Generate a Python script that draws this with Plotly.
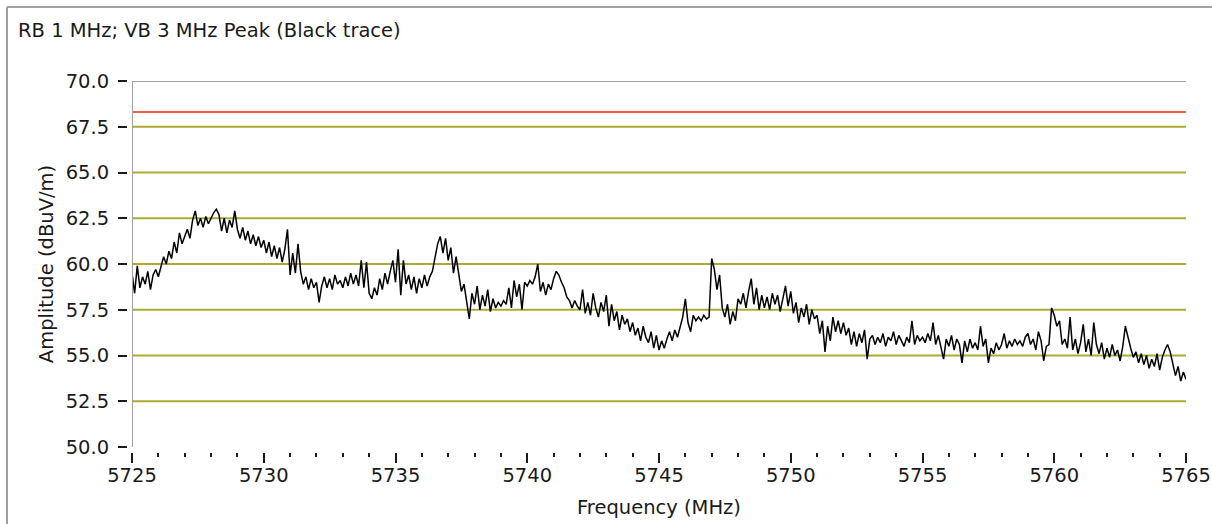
import numpy as np
import plotly.graph_objects as go

# ---------------- data ----------------
F_START = 5725.0
F_STEP = 0.1

amp_rows = [
    [59.5, 58.4, 59.9, 58.7, 59.3, 58.9, 59.6, 58.6, 59.4, 59.7],  # 5725
    [59.3, 59.8, 60.4, 60.0, 60.7, 60.3, 61.2, 60.6, 61.7, 61.1],  # 5726
    [61.5, 61.9, 61.4, 62.4, 62.9, 62.1, 62.5, 62.0, 62.6, 62.2],  # 5727
    [62.5, 62.8, 63.0, 62.7, 61.8, 62.5, 61.7, 62.4, 62.0, 62.9],  # 5728
    [61.9, 61.4, 62.0, 61.3, 61.8, 61.1, 61.6, 61.0, 61.5, 60.9],  # 5729
    [61.3, 60.6, 61.2, 60.4, 61.0, 60.3, 60.9, 60.1, 60.8, 61.9],  # 5730
    [59.4, 60.6, 59.5, 61.1, 59.6, 58.9, 59.3, 58.6, 59.2, 58.7],  # 5731
    [59.0, 57.9, 58.8, 59.3, 58.7, 59.2, 58.6, 59.4, 58.9, 59.1],  # 5732
    [58.7, 59.3, 58.8, 59.5, 58.9, 59.4, 58.8, 60.2, 58.7, 60.1],  # 5733
    [58.4, 58.1, 58.7, 58.3, 59.2, 58.6, 59.5, 58.9, 59.6, 60.2],  # 5734
    [59.0, 60.8, 58.3, 60.2, 58.9, 59.4, 58.6, 59.3, 58.4, 59.2],  # 5735
    [58.7, 59.4, 58.8, 59.3, 59.6, 60.4, 61.1, 61.5, 60.6, 61.4],  # 5736
    [60.2, 60.9, 59.5, 60.4, 59.3, 58.5, 58.9, 57.9, 57.0, 58.4],  # 5737
    [57.8, 58.8, 57.5, 58.3, 57.7, 58.6, 57.4, 58.1, 57.6, 57.9],  # 5738
    [57.7, 58.0, 57.8, 58.7, 57.6, 59.1, 58.2, 58.9, 57.5, 59.0],  # 5739
    [58.8, 59.1, 58.9, 59.3, 60.0, 58.5, 59.0, 58.3, 58.9, 58.6],  # 5740
    [59.2, 59.6, 59.4, 59.0, 58.7, 58.2, 58.0, 57.6, 58.0, 57.7],  # 5741
    [57.5, 58.6, 57.3, 57.9, 57.2, 58.4, 57.6, 57.1, 57.9, 57.4],  # 5742
    [58.3, 56.6, 57.8, 56.9, 57.4, 56.4, 57.2, 56.7, 57.0, 56.3],  # 5743
    [56.8, 56.1, 56.5, 55.8, 56.6, 56.0, 55.7, 56.3, 55.4, 56.1],  # 5744
    [55.3, 55.8, 55.4, 55.9, 56.3, 55.8, 56.4, 56.0, 56.6, 57.1],  # 5745
    [58.1, 56.8, 56.3, 57.2, 56.9, 57.1, 56.9, 57.2, 57.0, 57.1],  # 5746
    [60.3, 59.7, 58.6, 59.4, 57.6, 57.1, 57.8, 56.7, 57.4, 56.9],  # 5747
    [58.1, 57.8, 58.4, 57.6, 58.5, 59.2, 57.8, 58.7, 57.5, 58.3],  # 5748
    [57.6, 58.2, 57.5, 58.4, 57.8, 58.3, 57.4, 58.1, 58.8, 57.7],  # 5749
    [58.5, 57.3, 57.9, 56.8, 57.6, 57.1, 57.8, 56.7, 57.5, 57.0],  # 5750
    [57.2, 56.2, 56.9, 55.2, 56.6, 55.8, 57.1, 56.3, 56.9, 56.2],  # 5751
    [56.8, 56.1, 56.5, 55.6, 56.3, 55.5, 56.2, 55.7, 56.4, 54.8],  # 5752
    [55.9, 56.1, 55.6, 56.0, 55.7, 56.2, 55.5, 56.0, 55.8, 56.3],  # 5753
    [55.6, 56.1, 55.8, 55.5, 56.0, 55.7, 56.9, 55.6, 56.1, 55.8],  # 5754
    [56.0, 55.7, 56.2, 55.8, 56.8, 55.6, 56.1, 55.4, 54.8, 55.9],  # 5755
    [55.5, 56.1, 55.3, 55.9, 55.6, 54.6, 55.8, 55.2, 55.9, 55.4],  # 5756
    [55.7, 55.3, 56.6, 55.5, 55.9, 54.6, 55.4, 55.1, 55.7, 55.3],  # 5757
    [55.6, 56.2, 55.4, 55.8, 55.5, 55.9, 55.6, 55.8, 55.5, 56.0],  # 5758
    [56.2, 55.6, 55.9, 55.3, 56.3, 55.8, 54.7, 55.5, 55.6, 57.6],  # 5759
    [57.2, 56.6, 56.9, 55.6, 55.9, 55.4, 57.1, 55.3, 55.9, 55.1],  # 5760
    [55.7, 56.7, 55.2, 55.9, 55.0, 56.8, 55.6, 55.1, 55.7, 54.8],  # 5761
    [55.4, 54.9, 55.6, 55.0, 55.3, 54.7, 55.5, 56.6, 55.9, 55.4],  # 5762
    [54.9, 55.2, 54.6, 55.1, 54.5, 55.0, 54.3, 54.8, 54.4, 55.1],  # 5763
    [54.2, 54.9, 55.3, 55.6, 55.2, 54.5, 53.9, 54.4, 53.6, 54.1],  # 5764
]
amp_last = [53.7]  # 5765

amplitude = [v for row in amp_rows for v in row] + amp_last
frequency = [F_START + i * F_STEP for i in range(len(amplitude))]

limit_value = 68.3
grid_values = [52.5, 55.0, 57.5, 60.0, 62.5, 65.0, 67.5]
y_ticks = [50.0, 52.5, 55.0, 57.5, 60.0, 62.5, 65.0, 67.5, 70.0]
x_ticks = [5725, 5730, 5735, 5740, 5745, 5750, 5755, 5760, 5765]
x_range = [5725, 5765]
y_range = [50, 70]

title_text = "RB 1 MHz; VB 3 MHz Peak (Black trace)"
x_title = "Frequency (MHz)"
y_title = "Amplitude (dBuV/m)"

# ---------------- layout geometry ----------------
W, H = 1212, 524
L, R, T, B = 127, 26, 81, 72
pw, ph = W - L - R, H - T - B
gap = 5
FONT = "DejaVu Sans"
FS = 19.5
TXT_C = "#1a1a1a"
GRID_C = "#abab2e"
FRAME_C = "#a0a0a0"

fig = go.Figure()
fig.add_trace(go.Scatter(
    x=frequency, y=amplitude, mode="lines",
    line=dict(color="black", width=1.5), showlegend=False,
    hoverinfo="x+y",
))

shapes = []
for g in grid_values:
    shapes.append(dict(type="line", xref="x", yref="y", x0=x_range[0], x1=x_range[1],
                       y0=g, y1=g, line=dict(color=GRID_C, width=2), layer="below"))
shapes.append(dict(type="line", xref="x", yref="y", x0=x_range[0], x1=x_range[1],
                   y0=limit_value, y1=limit_value, line=dict(color="#ff5a4a", width=2), layer="below"))
# plot border: top and left
shapes.append(dict(type="line", xref="x", yref="y", x0=x_range[0], x1=x_range[1],
                   y0=y_range[1], y1=y_range[1], line=dict(color=FRAME_C, width=2)))
shapes.append(dict(type="line", xref="x", yref="y", x0=x_range[0], x1=x_range[0],
                   y0=y_range[0], y1=y_range[1], line=dict(color=FRAME_C, width=2)))
# outer frame (top and left edges of the panel)
fx = (7 - L) / pw
fy = (H - B - 7) / ph
shapes.append(dict(type="line", xref="paper", yref="paper", x0=fx, x1=1.05, y0=fy, y1=fy,
                   line=dict(color=FRAME_C, width=2)))
shapes.append(dict(type="line", xref="paper", yref="paper", x0=fx, x1=fx, y0=fy, y1=-0.3,
                   line=dict(color=FRAME_C, width=2)))

fig.update_layout(
    width=W, height=H,
    margin=dict(l=L, r=R, t=T, b=B, autoexpand=False),
    paper_bgcolor="white", plot_bgcolor="white",
    font=dict(family=FONT, size=FS, color=TXT_C),
    title=dict(text=title_text, x=18 / W, xanchor="left", xref="container",
               y=1 - 30 / H, yanchor="middle", yref="container",
               font=dict(family=FONT, size=FS, color=TXT_C)),
    shapes=shapes,
    xaxis=dict(
        range=x_range, domain=[gap / pw, 1], anchor="free", position=0,
        showgrid=False, zeroline=False, showline=False,
        tickmode="array", tickvals=x_ticks, ticktext=[str(v) for v in x_ticks],
        ticks="outside", ticklen=10, tickwidth=2, tickcolor=TXT_C,
        minor=dict(dtick=1, tick0=5725, ticks="outside", ticklen=4, tickwidth=2,
                   tickcolor=TXT_C, showgrid=False),
        ticklabelstandoff=-4,
        tickfont=dict(family=FONT, size=FS, color=TXT_C),
        title=dict(text=x_title, standoff=13, font=dict(family=FONT, size=FS, color=TXT_C)),
        automargin=False,
    ),
    yaxis=dict(
        range=y_range, domain=[gap / ph, 1], anchor="free", position=0,
        showgrid=False, zeroline=False, showline=False,
        tickmode="array", tickvals=y_ticks, ticktext=[f"{v:.1f}" for v in y_ticks],
        ticks="outside", ticklen=9, tickwidth=2, tickcolor=TXT_C,
        ticklabelstandoff=5,
        tickfont=dict(family=FONT, size=FS, color=TXT_C),
        title=dict(text=y_title, standoff=5, font=dict(family=FONT, size=FS, color=TXT_C)),
        automargin=False,
    ),
)

fig.write_html(
    "out.html",
    config={"displayModeBar": False},
    post_script="document.body.style.margin='0';document.body.style.padding='0';",
)
